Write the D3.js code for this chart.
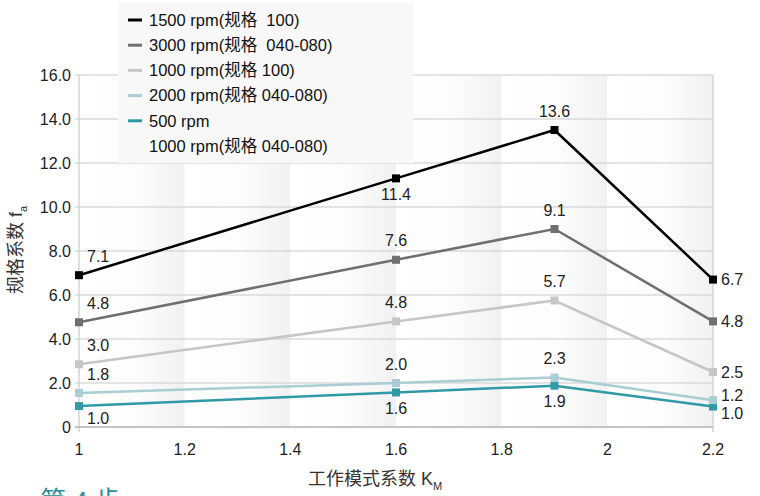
<!DOCTYPE html>
<html>
<head>
<meta charset="utf-8">
<script src="https://cdn.jsdelivr.net/npm/d3@7"></script>
<style>
  html, body { margin: 0; padding: 0; background: #fff; overflow: hidden; }
  svg { display: block; font-family: "Liberation Sans", Arial, "Noto Sans CJK SC", sans-serif; }
  text { white-space: pre; }
</style>
</head>
<body>
<svg id="chart" width="760" height="496"></svg>
<script>
// x categories (工作模式系数 KM)
const kmValues = [1, 1.6, 1.9, 2.2];
const xTicks = [1, 1.2, 1.4, 1.6, 1.8, 2, 2.2];
const yTicks = [0, 2, 4, 6, 8, 10, 12, 14, 16];

// series names, colours and values (plotted positions + printed labels)
const seriesNames = [
    '1500 rpm(规格  100)',
    '3000 rpm(规格  040-080)',
    '1000 rpm(规格 100)',
    '2000 rpm(规格 040-080)',
    '500 rpm',
    '1000 rpm(规格 040-080)'
];
const seriesColors = ['#000000', '#6f6f6f', '#c6c6c6', '#a9cdd2', '#2f9aa5', null];

const rpm1500 = [6.9, 11.3, 13.5, 6.7];
const rpm3000 = [4.76, 7.6, 9.0, 4.8];
const rpm1000big = [2.85, 4.8, 5.75, 2.5];
const rpm2000 = [1.55, 2.0, 2.25, 1.22];
const rpm500 = [0.95, 1.57, 1.88, 0.93];

const labels1500 = ['7.1', '11.4', '13.6', '6.7'];
const labels3000 = ['4.8', '7.6', '9.1', '4.8'];
const labels1000big = ['3.0', '4.8', '5.7', '2.5'];
const labels2000 = ['1.8', '2.0', '2.3', '1.2'];
const labels500 = ['1.0', '1.6', '1.9', '1.0'];

// where each label sits relative to its point: 'ur' up-right, 'u' above, 'd' below,
// 'dr' down-right, 'r' right, 'ru' right nudged up, 'rd' right nudged down
const labelPos1500 = ['ur', 'd', 'u', 'r'];
const labelPos3000 = ['ur', 'u', 'u', 'r'];
const labelPos1000big = ['ur', 'u', 'u', 'r'];
const labelPos2000 = ['ur', 'u', 'u', 'ru'];
const labelPos500 = ['dr', 'd', 'd', 'rd'];

const series = [
    { values: rpm1500, labels: labels1500, pos: labelPos1500, color: seriesColors[0] },
    { values: rpm3000, labels: labels3000, pos: labelPos3000, color: seriesColors[1] },
    { values: rpm1000big, labels: labels1000big, pos: labelPos1000big, color: seriesColors[2] },
    { values: rpm2000, labels: labels2000, pos: labelPos2000, color: seriesColors[3] },
    { values: rpm500, labels: labels500, pos: labelPos500, color: seriesColors[4] }
];

const svg = d3.select('#chart');
const margin = { left: 79, right: 47, top: 75, bottom: 69 };
const W = 760, H = 496;
const x = d3.scaleLinear().domain([1, 2.2]).range([margin.left, W - margin.right]);
const y = d3.scaleLinear().domain([0, 16]).range([H - margin.bottom, margin.top]);

// background bands: each 0.2 step fades white -> light grey on its right edge
const defs = svg.append('defs');
const grad = defs.append('linearGradient').attr('id', 'band').attr('x1', 0).attr('x2', 1).attr('y1', 0).attr('y2', 0);
grad.append('stop').attr('offset', '0%').attr('stop-color', '#ffffff');
grad.append('stop').attr('offset', '55%').attr('stop-color', '#fcfcfc');
grad.append('stop').attr('offset', '100%').attr('stop-color', '#f1f1f1');

const bands = d3.pairs(xTicks);
svg.append('g').selectAll('rect').data(bands).join('rect')
    .attr('x', (d) => x(d[0]))
    .attr('width', (d) => x(d[1]) - x(d[0]))
    .attr('y', y(16))
    .attr('height', y(0) - y(16))
    .attr('fill', 'url(#band)');

// horizontal gridlines
svg.append('g').selectAll('line').data(yTicks.filter((t) => t > 0)).join('line')
    .attr('x1', x(1) - 4).attr('x2', x(2.2))
    .attr('y1', (d) => y(d)).attr('y2', (d) => y(d))
    .attr('stroke', '#dadada').attr('stroke-width', 1.5);

// frame: left axis, right border, bottom axis
svg.append('line').attr('x1', x(1)).attr('x2', x(1)).attr('y1', y(16)).attr('y2', y(0) + 5)
    .attr('stroke', '#d4d4d4').attr('stroke-width', 1.5);
svg.append('line').attr('x1', x(2.2)).attr('x2', x(2.2)).attr('y1', y(16)).attr('y2', y(0) + 5)
    .attr('stroke', '#d4d4d4').attr('stroke-width', 1.5);
svg.append('line').attr('x1', x(1) - 4).attr('x2', x(2.2)).attr('y1', y(0)).attr('y2', y(0))
    .attr('stroke', '#c4c4c4').attr('stroke-width', 2);

// y tick labels
svg.append('g').selectAll('text').data(yTicks).join('text')
    .attr('x', x(1) - 8).attr('y', (d) => y(d))
    .attr('dy', '0.35em').attr('text-anchor', 'end')
    .attr('font-size', 16).attr('fill', '#222')
    .text((d) => d === 0 ? '0' : d3.format('.1f')(d));

// x tick labels
svg.append('g').selectAll('text').data(xTicks).join('text')
    .attr('x', (d) => x(d)).attr('y', y(0) + 28)
    .attr('text-anchor', 'middle')
    .attr('font-size', 16).attr('fill', '#222')
    .text((d) => String(d));

// axis titles
const xTitle = svg.append('text').attr('x', 375).attr('y', 485)
    .attr('text-anchor', 'middle').attr('font-size', 18).attr('fill', '#333');
xTitle.append('tspan').text('工作模式系数 K');
xTitle.append('tspan').attr('font-size', 11).attr('dy', 5).text('M');

const yTitle = svg.append('text').attr('transform', 'translate(22,250) rotate(-90)')
    .attr('text-anchor', 'middle').attr('font-size', 18).attr('fill', '#333');
yTitle.append('tspan').text('规格系数 f');
yTitle.append('tspan').attr('font-size', 11).attr('dy', 5).text('a');

// lines and markers
const line = d3.line().x((d, i) => x(kmValues[i])).y((d) => y(d));
const gSeries = svg.append('g');
series.slice().reverse().forEach((s) => {
    gSeries.append('path').datum(s.values)
        .attr('d', line).attr('fill', 'none')
        .attr('stroke', s.color).attr('stroke-width', 2.5);
    gSeries.append('g').selectAll('rect').data(s.values).join('rect')
        .attr('x', (d, i) => x(kmValues[i]) - 4)
        .attr('y', (d) => y(d) - 4)
        .attr('width', 8).attr('height', 8)
        .attr('fill', s.color);
});

// point labels
const offsets = {
    ur: { dx: 8, dy: -19, anchor: 'start' },
    u: { dx: 0, dy: -19, anchor: 'middle' },
    d: { dx: 0, dy: 16, anchor: 'middle' },
    dr: { dx: 8, dy: 12, anchor: 'start' },
    r: { dx: 8, dy: 0, anchor: 'start' },
    ru: { dx: 8, dy: -5, anchor: 'start' },
    rd: { dx: 8, dy: 7, anchor: 'start' }
};
series.forEach((s) => {
    svg.append('g').selectAll('text').data(s.values).join('text')
        .attr('x', (d, i) => x(kmValues[i]) + offsets[s.pos[i]].dx)
        .attr('y', (d, i) => y(d) + offsets[s.pos[i]].dy)
        .attr('dy', '0.35em')
        .attr('text-anchor', (d, i) => offsets[s.pos[i]].anchor)
        .attr('font-size', 16).attr('fill', '#222')
        .text((d, i) => s.labels[i]);
});

// legend
const legend = svg.append('g').attr('transform', 'translate(118,2)');
legend.append('rect').attr('width', 295).attr('height', 161).attr('fill', '#f8f8f8');
const items = legend.selectAll('g.item').data(seriesNames).join('g')
    .attr('class', 'item')
    .attr('transform', (d, i) => `translate(0,${18 + i * 25.2})`);
items.append('line').attr('x1', 10).attr('x2', 24).attr('y1', 0).attr('y2', 0)
    .attr('stroke', (d, i) => seriesColors[i] || 'none').attr('stroke-width', 3);
items.append('text').attr('x', 31).attr('dy', '0.35em')
    .attr('font-size', 16.5).attr('fill', '#111')
    .text((d) => d);

// page heading peeking in at the bottom
svg.append('text').attr('x', 40).attr('y', 510)
    .attr('font-size', 26).attr('fill', '#2a8d97')
    .text('第 4 步');
</script>
</body>
</html>
